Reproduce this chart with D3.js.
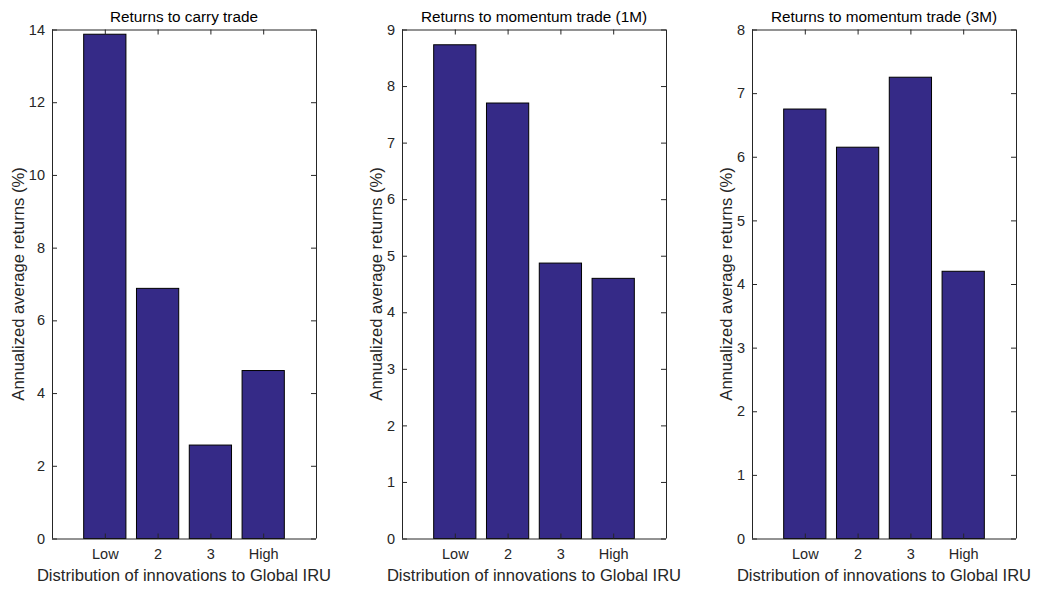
<!DOCTYPE html>
<html>
<head>
<meta charset="utf-8">
<script src="https://cdn.jsdelivr.net/npm/d3@7"></script>
<style>
  html, body { margin: 0; padding: 0; background: #fff; }
  svg { display: block; font-family: "Liberation Sans", Arial, Helvetica, sans-serif; }
</style>
</head>
<body>
<svg id="chart" width="1038" height="589"></svg>
<script>
// Quartile groups of innovations to Global IRU
const categories = ["Low", "2", "3", "High"];

// Annualized average returns (%) per quartile
const carryReturns = [13.87, 6.88, 2.57, 4.62];
const momentum1MReturns = [8.73, 7.70, 4.87, 4.60];
const momentum3MReturns = [6.75, 6.15, 7.25, 4.20];

const panelTitles = ["Returns to carry trade", "Returns to momentum trade (1M)", "Returns to momentum trade (3M)"];
const yMax = [14, 9, 8];
const yTicks = [
  [0, 2, 4, 6, 8, 10, 12, 14],
  [0, 1, 2, 3, 4, 5, 6, 7, 8, 9],
  [0, 1, 2, 3, 4, 5, 6, 7, 8]
];
const seriesList = [carryReturns, momentum1MReturns, momentum3MReturns];

const xLabel = "Distribution of innovations to Global IRU";
const yLabel = "Annualized average returns (%)";

const svg = d3.select("#chart");
const ink = "#262626";
const barFill = "#352a87";
const panelLeft = [52, 402, 752];
const panelW = 264;
const plotTop = 29.5, plotBottom = 538.5;
const tickLen = 5;

panelLeft.forEach((left, i) => {
  const g = svg.append("g");
  const x = d3.scaleLinear().domain([0, categories.length + 1]).range([left, left + panelW]);
  const y = d3.scaleLinear().domain([0, yMax[i]]).range([plotBottom, plotTop]);
  const barW = x(0.8) - x(0);

  // bars
  g.selectAll("rect.bar")
    .data(seriesList[i])
    .join("rect")
    .attr("class", "bar")
    .attr("x", (d, j) => x(j + 1) - barW / 2)
    .attr("y", d => y(d))
    .attr("width", barW)
    .attr("height", d => y(0) - y(d))
    .attr("fill", barFill)
    .attr("stroke", "#000")
    .attr("stroke-width", 1);

  // left axis
  const yAxis = g.append("g")
    .attr("transform", `translate(${left},0)`)
    .call(d3.axisLeft(y).tickValues(yTicks[i]).tickSize(-tickLen).tickPadding(7).tickFormat(d3.format("d")));
  // right axis (ticks only)
  const yAxisR = g.append("g")
    .attr("transform", `translate(${left + panelW},0)`)
    .call(d3.axisRight(y).tickValues(yTicks[i]).tickSize(-tickLen).tickFormat(""));
  // bottom axis
  const xAxis = g.append("g")
    .attr("transform", `translate(0,${plotBottom})`)
    .call(d3.axisBottom(x).tickValues([1, 2, 3, 4]).tickSize(-tickLen).tickPadding(10)
      .tickFormat(d => categories[d - 1]));
  // top axis (ticks only)
  const xAxisT = g.append("g")
    .attr("transform", `translate(0,${plotTop})`)
    .call(d3.axisTop(x).tickValues([1, 2, 3, 4]).tickSize(-tickLen).tickFormat(""));

  [yAxis, yAxisR, xAxis, xAxisT].forEach(a => {
    a.select(".domain").attr("stroke", ink).attr("stroke-width", 1);
    a.selectAll(".tick line").attr("stroke", ink).attr("stroke-width", 1);
    a.selectAll(".tick text").attr("fill", ink).style("font-size", "14.5px");
  });
  // keep domain paths as straight lines (no outer ticks)
  yAxis.select(".domain").attr("d", `M0.5,${plotTop}V${plotBottom}`);
  yAxisR.select(".domain").attr("d", `M0.5,${plotTop}V${plotBottom}`);
  xAxis.select(".domain").attr("d", `M${left},0.5H${left + panelW}`);
  xAxisT.select(".domain").attr("d", `M${left},0.5H${left + panelW}`);

  // width of the widest y tick label
  let maxW = 0;
  yAxis.selectAll(".tick text").each(function () { maxW = Math.max(maxW, this.getBBox().width); });

  // titles and axis labels
  g.append("text")
    .attr("x", left + panelW / 2)
    .attr("y", 22)
    .attr("text-anchor", "middle")
    .attr("fill", "#000")
    .style("font-size", "15.3px")
    .text(panelTitles[i]);

  g.append("text")
    .attr("x", left + panelW / 2)
    .attr("y", 581)
    .attr("text-anchor", "middle")
    .attr("fill", ink)
    .style("font-size", "16.6px")
    .text(xLabel);

  const ly = (plotTop + plotBottom) / 2;
  const lx = left - 7 - maxW - 11;
  g.append("text")
    .attr("transform", `translate(${lx},${ly}) rotate(-90)`)
    .attr("dy", "0.35em")
    .attr("text-anchor", "middle")
    .attr("fill", ink)
    .style("font-size", "16.6px")
    .text(yLabel);
});
</script>
</body>
</html>
